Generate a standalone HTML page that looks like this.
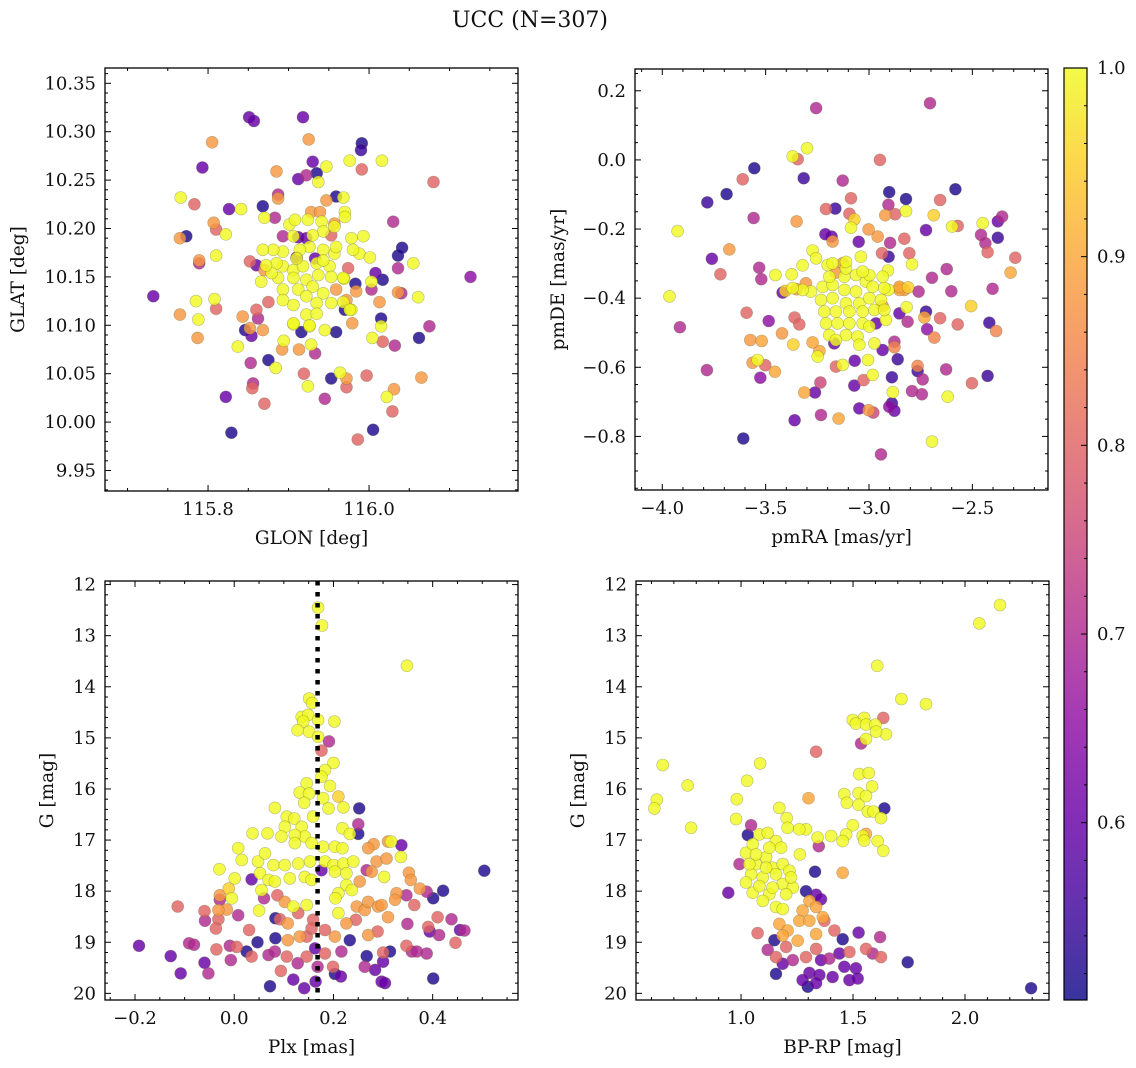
<!DOCTYPE html>
<html><head><meta charset="utf-8"><title>UCC (N=307)</title>
<style>
html,body{margin:0;padding:0;background:#fff;}
svg{display:block;font-family:"DejaVu Serif","Liberation Serif",serif;}
</style></head>
<body>
<svg id="fig" width="1136" height="1068" viewBox="0 0 1136 1068" xmlns="http://www.w3.org/2000/svg">
<text x="530" y="27" font-size="22" text-anchor="middle" fill="#111">UCC (N=307)</text>
</svg>
<script>
// ---- data: [x, y, membership probability] ----
const glonGlat = [
[115.793,10.263,.6],[115.885,10.259,.88],[115.930,10.269,.6],[115.947,10.264,1],[115.976,10.270,1],[115.991,10.261,.8],[116.016,10.270,1],[115.912,10.251,.6],[115.922,10.255,.7],[115.937,10.248,1],[115.935,10.257,.52],
[115.766,10.232,1],[115.783,10.225,.8],[115.826,10.220,.6],[115.841,10.220,1],[115.868,10.223,.52],[115.887,10.235,.7],[115.887,10.231,.88],[115.870,10.211,1],[115.883,10.211,.7],[115.947,10.229,.88],[115.959,10.233,.52],[115.968,10.232,1],[115.970,10.217,1],[115.970,10.212,1],[116.030,10.207,.7],
[115.807,10.206,.88],[115.810,10.199,.8],[115.822,10.194,1],[115.773,10.192,.52],[115.765,10.190,.88],[115.789,10.167,.88],[115.789,10.164,.7],[115.810,10.172,1],[115.732,10.130,.6],[115.785,10.125,1],[115.808,10.127,1],[115.810,10.117,.8],[115.765,10.111,.88],[115.788,10.106,1],[115.787,10.087,.88],[115.837,10.078,1],
[115.843,10.109,.88],[115.860,10.116,.8],[115.862,10.107,.7],[115.846,10.095,.52],[115.854,10.089,.6],[115.852,10.097,.88],[115.868,10.095,.88],[115.875,10.064,.52],[115.884,10.056,1],[115.894,10.084,1],[115.892,10.075,.88],[115.913,10.075,.88],[115.928,10.080,1],[115.933,10.071,.7],[115.916,10.093,.52],[115.906,10.101,1],[115.926,10.099,1],[115.945,10.095,1],[115.959,10.093,.52],
[115.979,10.102,.88],[115.978,10.116,1],[115.970,10.116,.52],[115.984,10.135,.88],[115.983,10.143,.52],[115.974,10.159,.8],[115.969,10.148,1],[116.003,10.145,1],[116.003,10.137,.7],[116.017,10.147,.52],[116.008,10.154,.6],[116.013,10.124,.88],[116.015,10.107,.52],[116.015,10.099,1],[116.004,10.087,1],[116.017,10.083,.8],[116.032,10.079,.7],
[116.055,10.164,1],[116.036,10.159,.7],[116.036,10.172,.52],[116.041,10.180,.52],[116.036,10.134,.88],[116.040,10.133,.7],[116.061,10.129,1],[116.062,10.087,.52],[116.075,10.099,.7],[116.065,10.046,.88],[116.031,10.034,.88],[116.022,10.026,1],[115.997,10.048,.8],[115.972,10.036,.8],[115.964,10.051,1],[115.972,10.045,.88],[115.953,10.045,.52],[115.945,10.024,.7],[115.924,10.037,1],[115.919,10.050,.8],
[115.853,10.061,.7],[115.856,10.040,.7],[115.855,10.035,.8],[115.822,10.026,.6],[115.870,10.019,.8],
[115.901,10.204,1],[115.908,10.209,1],[115.924,10.209,1],[115.941,10.207,1],[115.943,10.197,1],[115.957,10.202,1],[115.978,10.190,1],[115.993,10.192,1],[115.988,10.174,1],[116.001,10.170,1],[115.980,10.178,1],[115.957,10.174,1],[115.943,10.178,1],[115.926,10.181,1],[115.914,10.178,1],[115.893,10.176,1],[115.881,10.178,1],[115.868,10.178,1],[115.866,10.145,1],[115.887,10.149,1],[115.893,10.161,1],[115.906,10.157,1],[115.918,10.161,1],[115.935,10.164,1],[115.951,10.161,1],[115.953,10.150,1],[115.968,10.149,1],[115.937,10.152,1],[115.922,10.147,1],[115.906,10.149,1],[115.893,10.137,1],[115.912,10.137,1],[115.930,10.140,1],[115.943,10.133,1],[115.922,10.130,1],[115.906,10.121,1],[115.893,10.126,1],[115.935,10.123,1],[115.953,10.123,1],[115.968,10.124,1],[115.976,10.116,1],[115.922,10.111,1],[115.935,10.112,1],[115.906,10.102,1],[115.926,10.100,1],[115.910,10.169,1],[115.943,10.167,1],[115.959,10.181,1],[115.930,10.193,1],[115.906,10.192,1],[115.885,10.164,1],[115.879,10.154,1],[115.872,10.162,1],
[115.893,10.192,.7],[115.912,10.191,.6],[115.922,10.190,.6],[115.852,10.166,.8],[115.860,10.162,.6],[115.875,10.124,.8],[115.910,10.170,.6],[115.933,10.169,.6],[115.953,10.193,.8],[115.928,10.217,.88],[115.939,10.217,.88],[115.957,10.205,.88],[115.959,10.137,.88],[115.972,10.126,.88],[115.870,10.157,.88],
[115.851,10.315,.6],[115.857,10.311,.6],[115.805,10.289,.88],[115.918,10.315,.6],[115.925,10.292,.88],[115.991,10.288,.52],[115.990,10.281,.55],[116.080,10.248,.8],[116.126,10.150,.65],[115.829,9.989,.52],[116.005,9.992,.52],[115.986,9.982,.8],[116.029,10.011,.8]
];
const pmraPmde = [
[-3.256,0.150,.7],[-2.705,0.164,.7],[-3.300,0.034,1],[-3.369,0.010,1],[-3.345,0.002,.8],[-2.947,0.000,.8],[-3.555,-0.024,.52],[-3.611,-0.056,.8],[-3.316,-0.053,.55],[-3.127,-0.060,.7],[-3.689,-0.099,.52],[-3.782,-0.123,.55],[-3.558,-0.168,.7],[-3.350,-0.178,.88],[-3.926,-0.206,1],
[-3.208,-0.142,.8],[-3.163,-0.141,.55],[-3.087,-0.111,.8],[-3.095,-0.156,.8],[-3.071,-0.172,.95],[-3.087,-0.196,1],[-2.902,-0.093,.52],[-2.821,-0.113,.52],[-2.906,-0.130,.7],[-2.921,-0.160,.88],[-2.873,-0.157,.8],[-2.821,-0.148,1],[-2.687,-0.160,.95],[-2.582,-0.085,.52],[-2.656,-0.116,.8],[-2.598,-0.193,1],[-2.571,-0.191,.8],[-2.724,-0.203,.6],
[-2.450,-0.183,1],[-2.356,-0.164,.7],[-2.377,-0.178,.6],[-2.377,-0.225,.55],[-2.458,-0.217,.7],[-2.437,-0.241,.7],[-2.426,-0.267,.8],[-2.292,-0.283,.8],[-2.315,-0.326,.9],[-2.402,-0.373,.7],[-2.506,-0.423,.95],[-2.571,-0.476,.8],[-2.418,-0.471,.55],[-2.385,-0.495,.85],[-2.426,-0.625,.55],[-2.502,-0.646,.8],[-2.627,-0.606,.7],[-2.619,-0.685,1],
[-2.684,-0.514,.85],[-2.656,-0.458,.8],[-2.719,-0.490,.65],[-2.724,-0.439,.55],[-2.732,-0.456,.9],[-2.765,-0.596,.85],[-2.765,-0.611,.55],[-2.740,-0.635,.7],[-2.792,-0.669,.7],[-2.744,-0.678,.7],[-2.695,-0.815,1],[-2.942,-0.852,.7],[-2.885,-0.672,1],[-2.889,-0.704,.55],[-2.877,-0.726,.6],[-2.902,-0.714,.65],[-2.979,-0.731,.75],[-3.002,-0.724,.88],[-3.047,-0.719,.6],[-3.071,-0.653,.6],[-3.026,-0.637,.8],[-2.982,-0.622,1],[-2.889,-0.629,.55],[-2.861,-0.577,.55],[-2.934,-0.550,.6],[-2.877,-0.542,.85],[-2.877,-0.526,.7],[-2.813,-0.468,.7],[-2.818,-0.426,1],[-2.853,-0.444,.6],[-2.760,-0.381,.7],[-2.695,-0.341,.7],[-2.624,-0.316,.7],[-2.602,-0.380,.7],
[-2.805,-0.270,.8],[-2.792,-0.302,1],[-2.829,-0.228,.8],[-2.898,-0.240,.7],[-2.905,-0.280,.55],[-2.937,-0.270,.8],[-2.958,-0.222,.88],[-3.002,-0.201,.88],[-3.050,-0.237,.6],[-3.181,-0.222,.6],[-3.176,-0.236,.88],[-3.211,-0.215,.6],[-3.273,-0.262,1],[-3.321,-0.305,1],[-3.256,-0.285,1],[-3.374,-0.331,1],[-3.453,-0.333,1],[-3.531,-0.312,.7],[-3.521,-0.345,.7],[-3.719,-0.331,.8],[-3.676,-0.259,.88],[-3.760,-0.286,.6],[-3.965,-0.395,1],[-3.915,-0.484,.7],
[-3.592,-0.442,.8],[-3.485,-0.466,.65],[-3.421,-0.502,.88],[-3.366,-0.534,.95],[-3.360,-0.456,.8],[-3.337,-0.476,.8],[-3.574,-0.521,.88],[-3.519,-0.524,.9],[-3.539,-0.579,1],[-3.563,-0.587,.88],[-3.502,-0.594,.8],[-3.455,-0.613,.9],[-3.784,-0.608,.7],[-3.526,-0.630,.65],[-3.313,-0.673,.9],[-3.261,-0.673,.6],[-3.235,-0.644,.75],[-3.232,-0.738,.7],[-3.360,-0.753,.6],[-3.147,-0.748,.9],[-3.608,-0.806,.52],
[-3.160,-0.598,.8],[-3.127,-0.593,1],[-3.069,-0.581,.6],[-3.005,-0.579,1],[-3.248,-0.569,1],[-3.240,-0.553,.9],[-3.273,-0.528,.9],[-3.168,-0.531,.6],[-3.418,-0.384,.6],[-3.405,-0.379,.95],[-2.853,-0.371,.9],[-2.811,-0.369,.95],[-2.853,-0.376,.9],[-2.908,-0.320,1],[-2.906,-0.376,1],
[-3.224,-0.367,1],[-3.176,-0.362,1],[-3.119,-0.376,1],[-3.063,-0.381,1],[-3.015,-0.352,1],[-2.982,-0.367,1],[-2.926,-0.371,1],[-3.232,-0.405,1],[-3.176,-0.400,1],[-3.111,-0.415,1],[-3.047,-0.415,1],[-2.998,-0.400,1],[-2.942,-0.405,1],[-3.216,-0.439,1],[-3.160,-0.439,1],[-3.095,-0.439,1],[-3.031,-0.439,1],[-2.974,-0.434,1],[-3.208,-0.473,1],[-3.152,-0.473,1],[-3.095,-0.473,1],[-3.031,-0.473,1],[-2.998,-0.482,1],[-3.192,-0.507,1],[-3.111,-0.507,1],[-3.055,-0.511,1],[-3.160,-0.521,1],[-3.047,-0.535,1],[-3.192,-0.338,1],[-3.119,-0.338,1],[-3.063,-0.333,1],[-2.998,-0.333,1],[-2.934,-0.338,1],[-3.200,-0.304,1],[-3.111,-0.314,1],[-3.031,-0.323,1],[-3.039,-0.280,1],[-3.176,-0.299,1],[-3.111,-0.295,1],[-2.918,-0.463,1],[-2.926,-0.434,1],[-3.281,-0.381,1],[-3.321,-0.376,1],[-3.369,-0.371,1],[-2.974,-0.531,1],
[-3.127,-0.299,.88],[-3.305,-0.357,.88],[-3.350,-0.374,.88],[-2.934,-0.423,.88],[-3.160,-0.326,.88],[-2.829,-0.376,.88],[-2.966,-0.473,.6],[-2.853,-0.367,.9]
];
const plxG = [
[0.169,12.45,1],[0.177,12.80,1],[0.348,13.59,1],
[0.151,14.23,1],[0.157,14.32,1],[0.136,14.59,1],[0.149,14.55,1],[0.139,14.68,1],[0.169,14.65,1],[0.202,14.68,1],[0.128,14.85,1],[0.151,14.88,1],[0.169,14.98,1],[0.191,15.07,.7],[0.176,15.25,.8],[0.200,15.49,1],[0.183,15.63,1],[0.176,15.76,1],[0.146,15.89,1],[0.132,16.07,1],[0.151,16.09,1],[0.193,15.94,1],[0.210,16.15,.95],[0.179,16.18,1],[0.190,16.38,1],[0.220,16.36,1],[0.141,16.27,1],[0.252,16.38,.52],
[0.082,16.37,1],[0.106,16.54,1],[0.121,16.58,1],[0.159,16.54,1],[0.102,16.74,1],[0.136,16.74,1],[0.142,16.93,1],[0.122,16.90,1],[0.037,16.87,1],[0.067,16.87,1],[0.095,16.93,1],[0.122,17.06,1],[0.156,17.06,1],[0.179,17.13,1],[0.203,17.13,1],[0.218,16.77,1],[0.233,16.88,1],[0.250,16.69,.7],[0.250,16.88,.52],
[0.008,17.16,1],[0.015,17.39,1],[0.048,17.42,1],[0.062,17.26,1],[0.079,17.49,1],[0.102,17.49,1],[0.129,17.46,1],[0.153,17.42,1],[0.183,17.42,1],[0.200,17.49,1],[0.220,17.46,1],[0.240,17.42,1],[0.218,17.16,1],[0.281,17.08,.88],[0.270,17.16,.88],[0.310,17.03,.88],[0.316,17.03,1],[0.337,17.10,.6],[0.336,17.33,1],[0.287,17.42,.88],[0.307,17.36,.88],
[-0.030,17.57,1],[0.001,17.75,1],[0.035,17.77,.6],[0.052,17.65,1],[0.069,17.78,1],[0.082,17.81,1],[0.055,17.98,1],[0.112,17.75,1],[0.142,17.72,1],[0.156,17.78,1],[0.176,17.59,.6],[0.203,17.62,1],[0.226,17.65,1],[0.253,17.81,.88],[0.267,17.59,.7],[0.277,17.62,.88],[0.302,17.72,1],[0.352,17.64,.88],[0.356,17.78,.88],[0.226,17.88,1],[0.210,18.04,1],[0.237,17.98,1],
[0.504,17.60,.52],[0.421,17.99,.52],[0.401,18.14,.52],[0.388,18.01,.7],[0.374,17.95,.88],[0.347,18.08,.7],[0.327,18.04,.88],[0.324,18.17,.88],[0.363,18.27,.8],
[-0.114,18.30,.8],[-0.029,18.08,.88],[-0.011,17.95,.95],[-0.005,18.14,1],[-0.029,18.17,.7],[-0.015,18.36,.88],[-0.032,18.37,.88],[-0.060,18.39,.8],[-0.059,18.58,.7],[-0.032,18.55,.8],[-0.037,18.73,.8],[0.008,18.47,.7],[0.030,18.76,.8],[0.050,18.38,1],[0.060,18.14,.7],[0.087,18.08,.8],[0.083,18.53,.52],[0.092,18.55,.8],[0.102,18.21,.88],[0.119,18.30,1],[0.108,18.63,.88],[0.108,18.96,.88],[0.129,18.43,.8],[0.146,18.27,1],[0.159,18.56,.8],[0.146,18.89,.8],[0.132,18.89,.88],[0.156,18.73,.8],[0.183,18.76,.8],[0.203,18.89,.88],[0.210,18.43,1],[0.204,18.14,1],[0.233,18.96,.52],[0.247,18.30,.88],[0.263,18.37,.88],[0.270,18.21,.88],[0.290,18.30,.88],[0.297,18.27,.88],[0.310,18.51,.88],[0.245,18.56,.8],[0.226,18.63,.88],[0.270,18.86,.88],[0.289,18.79,.8],[0.349,18.64,.7],[0.410,18.51,.8],[0.391,18.70,.8],[0.394,18.79,.6],[0.413,18.86,.7],[0.438,18.55,.7],[0.455,18.76,.6],[0.464,18.77,.7],[0.446,19.01,.8],
[-0.192,19.07,.6],[-0.128,19.27,.6],[-0.108,19.61,.6],[-0.091,19.02,.7],[-0.081,19.05,.7],[-0.060,19.40,.6],[-0.052,19.61,.7],[-0.036,19.14,.8],[-0.009,19.07,.7],[-0.007,19.35,.7],[0.005,19.09,.8],[0.025,19.18,.52],[0.035,19.28,.8],[0.047,19.00,.52],[0.069,19.25,.7],[0.083,18.92,.52],[0.082,19.18,.7],[0.106,19.28,.8],[0.094,19.56,.8],[0.128,19.41,.7],[0.119,19.73,.6],[0.141,19.90,.6],[0.146,19.28,.8],[0.163,19.12,.6],[0.168,19.48,.7],[0.164,19.77,.6],[0.183,19.22,.8],[0.199,19.48,.8],[0.203,19.62,.52],[0.215,19.67,.6],[0.216,19.18,.7],[0.267,19.27,.52],[0.263,19.48,.7],[0.284,19.54,.6],[0.297,19.77,.6],[0.304,19.80,.6],[0.300,19.38,.6],[0.314,19.18,.52],[0.300,19.20,.8],[0.347,19.07,.8],[0.358,19.18,.7],[0.368,19.18,.7],[0.388,19.22,.7],[0.401,19.71,.52],[0.072,19.86,.52]
];
const bprpG = [
[0.650,15.53,1],[0.762,15.93,1],[0.624,16.21,1],[0.613,16.38,1],[0.777,16.76,1],[1.085,15.50,1],[1.027,15.84,1],[0.981,16.20,1],[0.978,16.59,1],[1.171,16.37,1],[1.204,16.57,1],[1.335,15.27,.8],[1.301,16.18,.9],
[2.156,12.40,1],[2.064,12.76,1],[1.608,13.59,1],[1.716,14.24,1],[1.826,14.34,1],
[1.499,14.65,1],[1.550,14.61,1],[1.513,14.72,1],[1.558,14.74,1],[1.600,14.74,1],[1.647,14.93,1],[1.603,14.88,1],[1.558,15.02,1],[1.635,14.61,.8],[1.536,15.11,.7],
[1.528,15.71,1],[1.570,15.69,1],[1.585,15.95,1],[1.461,16.10,1],[1.525,16.08,1],[1.558,16.14,1],[1.472,16.27,1],[1.525,16.31,1],[1.566,16.44,1],[1.591,16.44,1],[1.625,16.57,1],[1.640,16.38,.52],[1.499,16.71,1],
[1.469,16.89,1],[1.454,17.02,1],[1.543,16.92,1],[1.550,17.01,1],[1.610,17.02,1],[1.635,17.21,1],[1.558,16.88,.9],[1.402,16.92,1],[1.342,16.95,1],[1.290,16.79,1],[1.260,16.79,1],[1.208,16.76,1],[1.347,17.12,.7],[1.263,17.28,1],[1.330,17.62,.52],[1.454,17.64,.9],
[1.045,16.71,.7],[1.030,16.90,.52],[0.993,17.47,.7],[0.943,18.03,.6],
[1.022,17.25,1],[1.052,17.08,1],[1.082,16.89,1],[1.119,16.86,1],[1.156,17.02,1],[1.179,17.15,1],[1.067,17.47,1],[1.112,17.34,1],[1.141,17.54,1],[1.186,17.47,1],[1.216,17.60,1],[1.045,17.67,1],[1.097,17.73,1],[1.156,17.67,1],[1.186,17.86,1],[1.231,17.93,1],[1.052,18.03,1],[1.126,18.06,1],[1.201,18.06,1],[1.156,18.31,1],[1.097,18.19,1],[1.186,18.35,1],[1.022,17.83,1],[1.082,17.90,1],[1.126,17.15,1],[1.067,17.28,1],[1.223,17.73,1],[1.141,17.93,1],[1.112,17.54,1],[1.037,17.47,1],
[1.305,18.19,.9],[1.275,18.38,.9],[1.335,18.31,.9],[1.171,18.64,.9],[1.208,18.77,.9],[1.260,18.58,.9],[1.305,18.58,.9],[1.253,18.97,.9],[1.186,18.87,.9],[1.335,18.84,.9],[1.365,18.51,.9],
[1.372,18.58,.8],[1.417,18.77,.8],[1.074,18.82,.8],[1.335,19.13,.8],[1.201,19.09,.8],[1.156,19.29,.8],[1.290,19.29,.8],[1.484,19.19,.8],[1.625,19.29,.8],[1.558,19.13,.8],
[1.149,18.96,.52],[1.119,19.15,.7],[1.335,18.07,.6],[1.357,18.16,.6],[1.290,18.00,.52],[1.454,18.94,.52],[1.525,18.81,.6],[1.621,18.90,.7],[1.439,19.22,.6],[1.394,19.32,.7],[1.461,19.48,.6],[1.513,19.51,.6],[1.409,19.68,.6],[1.305,19.60,.6],[1.350,19.64,.6],[1.275,19.74,.6],[1.298,19.87,.52],[1.335,19.80,.6],[1.156,19.62,.52],[1.186,19.42,.6],[1.231,19.35,.7],[1.357,19.35,.6],[1.744,19.39,.52],[1.484,19.74,.6],[1.521,19.71,.6],[1.588,19.22,.7],[2.295,19.90,.52]
];
// ticks
const p1XMajor = [115.8, 116.0];
const p1YMajor = [9.95,10.00,10.05,10.10,10.15,10.20,10.25,10.30,10.35];
const p2XMajor = [-4.0,-3.5,-3.0,-2.5];
const p2YMajor = [-0.8,-0.6,-0.4,-0.2,0.0,0.2];
const p3XMajor = [-0.2,0.0,0.2,0.4];
const gMajor = [12,13,14,15,16,17,18,19,20];
const p4XMajor = [1.0,1.5,2.0];
const cbarTicks = [0.6,0.7,0.8,0.9,1.0];
const plxLine = 0.168;
const probMin = 0.506, probMax = 1.0;

const NS = 'http://www.w3.org/2000/svg';
const svg = document.getElementById('fig');
function mk(tag, attrs, parent){ const e=document.createElementNS(NS,tag); for(const k in attrs) e.setAttribute(k,attrs[k]); (parent||svg).appendChild(e); return e; }

const plasma = [[13,8,135],[65,4,157],[106,0,168],[143,13,164],[177,42,144],[204,71,120],[225,100,98],[242,132,75],[252,166,54],[252,206,37],[240,249,33]];
function cmap(p){
  let t=(p-probMin)/(probMax-probMin); t=Math.max(0,Math.min(1,t));
  const f=t*10, i=Math.min(9,Math.floor(f)), r=f-i;
  const a=plasma[i], b=plasma[i+1];
  return 'rgb('+a.map((v,k)=>Math.round(v+(b[k]-v)*r)).join(',')+')';
}
function fmt(v,d){ const s=Math.abs(v).toFixed(d); return (v<-1e-9?'\u2212':'')+s; }

function panel(o){
  const g = mk('g',{});
  
  
  const sx = v => o.x0 + (v-o.xd[0])/(o.xd[1]-o.xd[0])*(o.x1-o.x0);
  const sy = v => o.y1 - (v-o.yd[0])/(o.yd[1]-o.yd[0])*(o.y1-o.y0);
  const pts = o.data.slice().sort((a,b)=>a[2]-b[2]);
  const pg = mk('g',{}, g);
  
  
  pts.forEach(d=>{
    const c = mk('circle',{cx:sx(d[0]).toFixed(1),cy:sy(d[1]).toFixed(1),r:6,fill:cmap(d[2]),'fill-opacity':0.82,stroke:'#6b6b40','stroke-opacity':0.45,'stroke-width':0.6}, pg);
    
    
  });
  if(o.vline!==undefined){
    const l = mk('line',{x1:sx(o.vline),x2:sx(o.vline),y1:o.y0,y2:o.y1,stroke:'#000','stroke-width':4.5,'stroke-dasharray':'4.5 6.5'}, g);
    
    
  }
  const fr = mk('rect',{x:o.x0,y:o.y0,width:o.x1-o.x0,height:o.y1-o.y0,fill:'none',stroke:'#000','stroke-width':1.3}, g);
  
  
  const tk = mk('g',{stroke:'#000','stroke-width':1}, g);
  const xmin=Math.min(...o.xd), xmax=Math.max(...o.xd), ymin=Math.min(...o.yd), ymax=Math.max(...o.yd);
  const n1 = Math.ceil(xmin/o.xMinor-1e-6), n2=Math.floor(xmax/o.xMinor+1e-6);
  for(let n=n1;n<=n2;n++){ const v=n*o.xMinor, X=sx(v);
    const maj = o.xMajor.some(m=>Math.abs(m-v)<1e-6); const L = maj?6:3;
    mk('line',{x1:X,x2:X,y1:o.y1,y2:o.y1-L},tk); mk('line',{x1:X,x2:X,y1:o.y0,y2:o.y0+L},tk); }
  const m1 = Math.ceil(ymin/o.yMinor-1e-6), m2=Math.floor(ymax/o.yMinor+1e-6);
  for(let n=m1;n<=m2;n++){ const v=n*o.yMinor, Y=sy(v);
    const maj = o.yMajor.some(m=>Math.abs(m-v)<1e-6); const L = maj?6:3;
    mk('line',{x1:o.x0,x2:o.x0+L,y1:Y,y2:Y},tk); mk('line',{x1:o.x1,x2:o.x1-L,y1:Y,y2:Y},tk); }
  o.xMajor.forEach(v=>{ const t=mk('text',{x:sx(v),y:o.y1+24,'font-size':18,'text-anchor':'middle',fill:'#111'},g); t.textContent=fmt(v,o.xDec);
      });
  o.yMajor.forEach(v=>{ const t=mk('text',{x:o.x0-9,y:sy(v)+6,'font-size':18,'text-anchor':'end',fill:'#111'},g); t.textContent=fmt(v,o.yDec);
      });
  const xl = mk('text',{x:(o.x0+o.x1)/2,y:o.y1+53,'font-size':18.5,'text-anchor':'middle',fill:'#111'},g); xl.textContent=o.xlabel;
   
  const yx=o.ylx, yy=(o.y0+o.y1)/2;
  const yl = mk('text',{x:yx,y:yy,'font-size':18.5,'text-anchor':'middle',fill:'#111',transform:'rotate(-90 '+yx+' '+yy+')'},g); yl.textContent=o.ylabel;
   
}

panel({name:'glon-glat-panel',data:glonGlat,x0:105,x1:518,y0:68,y1:491,xd:[115.672,116.185],yd:[9.9288,10.3658],xMajor:p1XMajor,xMinor:0.05,yMajor:p1YMajor,yMinor:0.01,xDec:1,yDec:2,xlabel:'GLON [deg]',ylabel:'GLAT [deg]',ylx:24});
panel({name:'pm-panel',data:pmraPmde,x0:635,x1:1048,y0:69,y1:490,xd:[-4.132,-2.134],yd:[-0.955,0.263],xMajor:p2XMajor,xMinor:0.1,yMajor:p2YMajor,yMinor:0.05,xDec:1,yDec:1,xlabel:'pmRA [mas/yr]',ylabel:'pmDE [mas/yr]',ylx:564});
panel({name:'plx-g-panel',data:plxG,x0:105,x1:518,y0:581,y1:1000,xd:[-0.2605,0.572],yd:[20.13,11.93],xMajor:p3XMajor,xMinor:0.05,yMajor:gMajor,yMinor:0.2,xDec:1,yDec:0,xlabel:'Plx [mas]',ylabel:'G [mag]',ylx:53,vline:plxLine});
panel({name:'cmd-panel',data:bprpG,x0:636,x1:1049,y0:581,y1:1000,xd:[0.531,2.375],yd:[20.13,11.93],xMajor:p4XMajor,xMinor:0.1,yMajor:gMajor,yMinor:0.2,xDec:1,yDec:0,xlabel:'BP-RP [mag]',ylabel:'G [mag]',ylx:584});

(function(){
  const x0=1064,x1=1087,y0=68,y1=1000;
  const cg = mk('g',{});
  
  
  const defs = mk('defs',{},cg);
  const lg = mk('linearGradient',{id:'cbg',x1:0,y1:1,x2:0,y2:0},defs);
  for(let i=0;i<=20;i++){ const t=i/20; mk('stop',{offset:t,'stop-color':cmap(probMin+t*(probMax-probMin))},lg); }
  const r = mk('rect',{x:x0,y:y0,width:x1-x0,height:y1-y0,fill:'url(#cbg)','fill-opacity':0.82},cg);
   
  mk('rect',{x:x0,y:y0,width:x1-x0,height:y1-y0,fill:'none',stroke:'#000','stroke-width':1.2},cg);
  const sy = v => y1-(v-probMin)/(probMax-probMin)*(y1-y0);
  for(let n=Math.ceil(probMin/0.02);n<=50;n++){ const v=n*0.02, Y=sy(v); const maj=Math.abs(v*10-Math.round(v*10))<1e-6;
    mk('line',{x1:x1,x2:x1-(maj?6:3),y1:Y,y2:Y,stroke:'#000','stroke-width':1},cg); }
  cbarTicks.forEach(v=>{ const t=mk('text',{x:x1+10,y:sy(v)+6,'font-size':18,fill:'#111'},cg); t.textContent=v.toFixed(1);
      });
})();
</script>
</body></html>
